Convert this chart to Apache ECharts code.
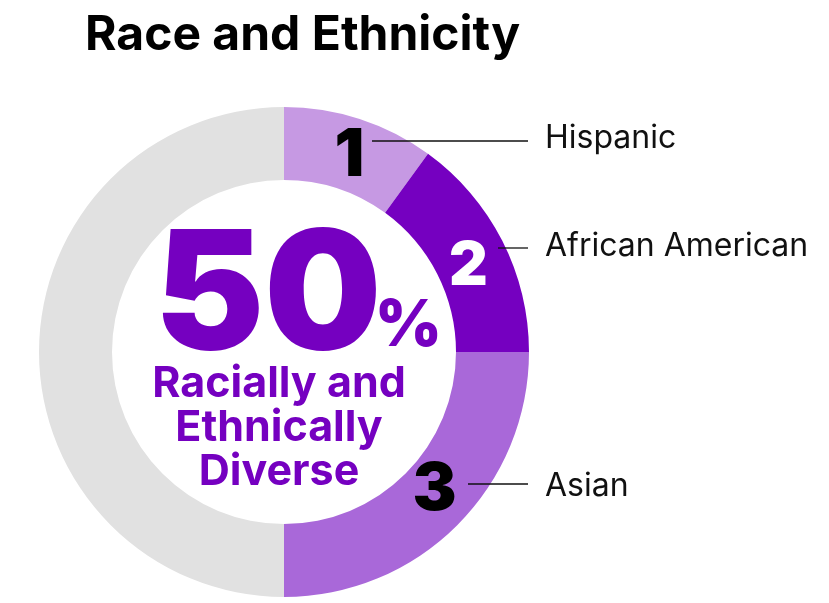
<!DOCTYPE html>
<html>
<head>
<meta charset="utf-8">
<script src="https://cdn.jsdelivr.net/npm/echarts@6/dist/echarts.min.js"></script>
<style>html,body{margin:0;padding:0;background:#fff}#c{width:829px;height:603px}</style>
</head>
<body>
<div id="c"></div>
<script>
const categories = ["Hispanic", "African American", "Asian", "Other"];
const shares = [10, 15, 25, 50];
const ranks = ["1", "2", "3", ""];
const headline = "50";
const headlineUnit = "%";
const subtitleLines = ["Racially and", "Ethnically", "Diverse"];
const titleText = "Race and Ethnicity";

const colors = ["#c699e3", "#7500c0", "#a968d9", "#e1e1e1"];
const rankColors = ["#000000", "#ffffff", "#000000", "#000000"];
const rankSizes = [66, 60, 66, 0];
const rankOffsets = [[0, 5], [-4, 11], [1, -11], [0, 0]];
// leader-line layout (style): line y, line start x, text y
const leader = [
  {ly: 141, x0: 372, ty: 138},
  {ly: 248, x0: 498, ty: 246},
  {ly: 484, x0: 468, ty: 486},
  null
];

const chart = echarts.init(document.getElementById('c'), null, {renderer: 'canvas'});
const FONT = 'Inter, "Noto Sans", sans-serif';

const baseData = categories.map((c, i) => ({
  name: c, value: shares[i],
  itemStyle: {color: colors[i]},
  label: {
    show: ranks[i] !== "",
    formatter: ranks[i],
    color: rankColors[i],
    fontSize: rankSizes[i] || 12,
    offset: rankOffsets[i]
  }
}));

const labelData = categories.map((c, i) => ({
  name: c, value: shares[i],
  label: {show: leader[i] !== null},
  labelLine: {show: leader[i] !== null}
}));

chart.setOption({
  animation: false,
  graphic: [
    {type: 'text', left: 85, top: 12, style: {text: titleText, font: 'bold 48px ' + FONT, fill: '#000'}},
    {type: 'text', x: 268, y: 382, style: {text: headline, font: '900 165px ' + FONT, fill: '#7500c0', textAlign: 'center', textVerticalAlign: 'bottom'}, z: 10},
    {type: 'text', x: 375, y: 359, style: {text: headlineUnit, font: '900 64px ' + FONT, fill: '#7500c0', textAlign: 'left', textVerticalAlign: 'bottom'}, z: 10},
    {type: 'text', x: 279, y: 362, style: {text: subtitleLines.join('\n'), font: 'bold 43px ' + FONT, lineHeight: 44, fill: '#7500c0', textAlign: 'center', textVerticalAlign: 'top'}, z: 10}
  ],
  series: [
    {
      type: 'pie',
      z: 2,
      center: [284, 352],
      radius: [172, 245],
      startAngle: 90,
      clockwise: true,
      silent: true,
      label: {position: 'inside', fontFamily: FONT, fontWeight: 900},
      labelLine: {show: false},
      itemStyle: {borderWidth: 0},
      data: baseData
    },
    {
      type: 'pie',
      z: 5,
      center: [284, 352],
      radius: [172, 245],
      startAngle: 90,
      clockwise: true,
      silent: true,
      itemStyle: {color: 'rgba(0,0,0,0)', borderWidth: 0},
      label: {show: true, position: 'outside', formatter: '{b}', fontFamily: FONT, fontSize: 32, color: '#111'},
      labelLine: {show: true, lineStyle: {color: '#111', width: 1.3}},
      labelLayout: function (p) {
        const L = leader[p.dataIndex];
        if (!L) return {};
        return {
          x: 545, y: L.ty, align: 'left', verticalAlign: 'middle',
          labelLinePoints: [[L.x0, L.ly], [528, L.ly], [528, L.ly]]
        };
      },
      data: labelData
    }
  ]
});
</script>
</body>
</html>
